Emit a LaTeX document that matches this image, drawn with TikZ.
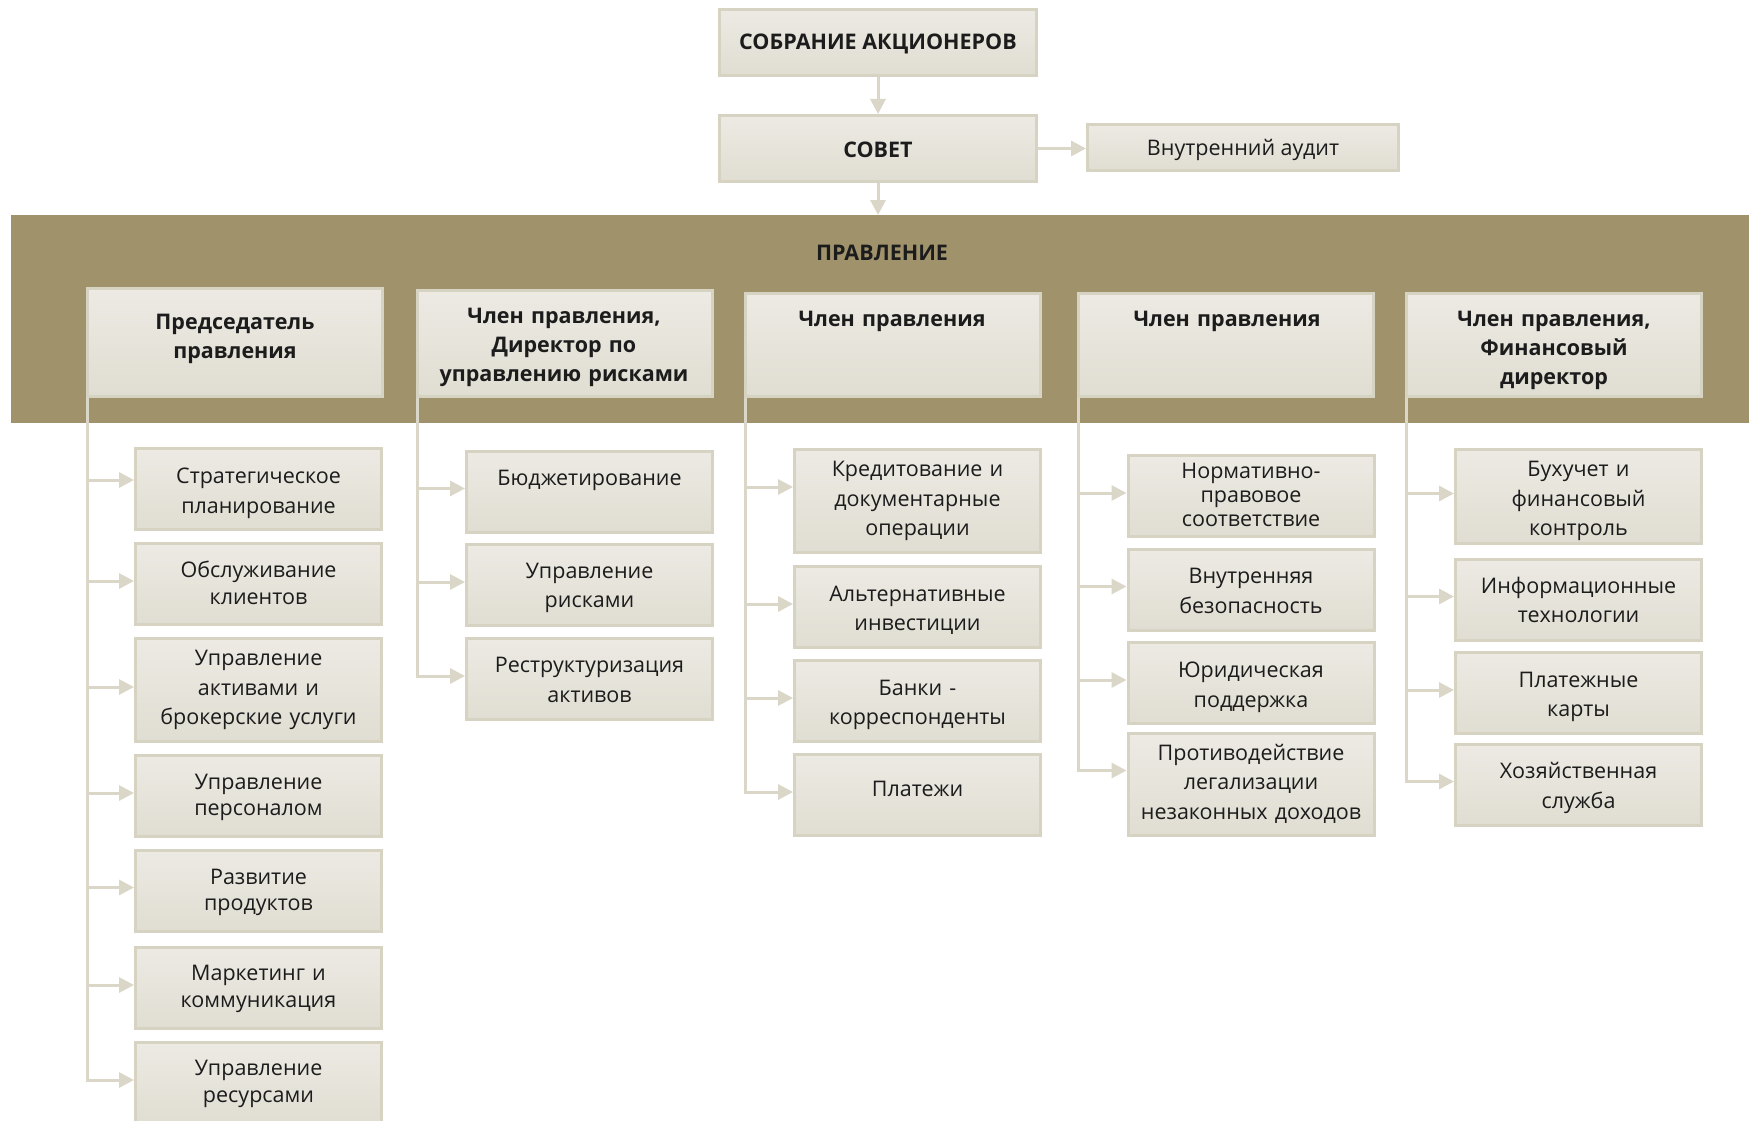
\documentclass[tikz,border=0pt]{standalone}
\usepackage{fontspec}
\setmainfont{Open Sans}
\usetikzlibrary{arrows.meta}
\definecolor{bandc}{HTML}{A0936C}
\definecolor{boxtop}{HTML}{ECEAE3}
\definecolor{boxbot}{HTML}{E0DDD2}
\definecolor{boxline}{HTML}{D6D3C3}
\definecolor{linec}{HTML}{DAD7C8}
\definecolor{txt}{HTML}{1C1C1C}
\begin{document}
\begin{tikzpicture}[x=1pt,y=-1pt,
  every node/.style={text=txt, font=\fontsize{21.5}{29.5}\selectfont},
  box/.style={draw=boxline, line width=3pt, top color=boxtop, bottom color=boxbot, inner sep=0pt},
  sub/.style={box, minimum width=246pt, minimum height=81pt},
  lbl/.style={inner sep=0pt, align=center, text width=240pt},
  tight/.style={font=\fontsize{21.5}{26.5}\selectfont},
  tighter/.style={font=\fontsize{21.5}{24}\selectfont},
  mgr/.style={box, minimum width=295pt},
  mtitle/.style={anchor=base, inner sep=0pt, align=center, text width=290pt, font=\bfseries\fontsize{21.5}{29}\selectfont},
  topbox/.style={box, minimum width=317pt, minimum height=66pt, font=\bfseries\fontsize{21.5}{29}\selectfont},
  conn/.style={draw=linec, line width=3pt, -{Triangle[length=15pt,width=15pt]}}
]
\fill[white] (0,0) rectangle (1749,1121);
\useasboundingbox (0,0) rectangle (1749,1121);

% band
\node[fill=bandc, minimum width=1738pt, minimum height=208pt, inner sep=0pt, outer sep=0pt] (band) at (880,319) {};
\node[font=\bfseries\fontsize{21.5}{29}\selectfont] (pravl) at (882,253) {ПРАВЛЕНИЕ};

% top
\node[topbox] (sobr) at (878,42.5) {};
\node[topbox] (sovet) at (878,148.5) {};
\node[box, minimum width=311pt, minimum height=46pt] (audit) at (1243,147.5) {};
\node[font=\bfseries\fontsize{21.5}{29}\selectfont] (sobrt) at ([yshift=-1pt]sobr.center) {СОБРАНИЕ АКЦИОНЕРОВ};
\node[font=\bfseries\fontsize{21.5}{29}\selectfont] (sovett) at ([yshift=-1pt]sovet.center) {СОВЕТ};
\node (auditt) at ([yshift=-2pt]audit.center) {Внутренний аудит};

% managers
\node[mgr, minimum height=108pt] (m1) at (235,342.5) {};
\node[mgr, minimum height=106pt] (m2) at (565,343.5) {};
\node[mgr, minimum height=103pt] (m3) at (893,345) {};
\node[mgr, minimum height=103pt] (m4) at (1226,345) {};
\node[mgr, minimum height=103pt] (m5) at (1554,345) {};
\node[mtitle] (m1t) at (235,329.7) {Председатель\\правления};
\node[mtitle] (m2t) at (564,323.7) {Член правления,\\Директор по\\управлению рисками};
\node[mtitle] (m3t) at (892,326.7) {Член правления};
\node[mtitle] (m4t) at (1227,326.7) {Член правления};
\node[mtitle] (m5t) at (1554,326.7) {Член правления,\\Финансовый\\директор};

% column 1
\node[sub] (s11) at (258.5,489) {};
\node[sub] (s12) at (258.5,584) {};
\node[sub, minimum height=103pt] (s13) at (258.5,690) {};
\node[sub] (s14) at (258.5,796) {};
\node[sub] (s15) at (258.5,890.5) {};
\node[sub] (s16) at (258.5,988) {};
\node[sub] (s17) at (258.5,1083) {};
\node[lbl] (s11t) at ([yshift=-4.5pt]s11.center) {Стратегическое\\планирование};
\node[lbl, tight] (s12t) at ([yshift=1pt]s12.center) {Обслуживание\\клиентов};
\node[lbl] (s13t) at (s13.center) {Управление\\активами и\\брокерские услуги};
\node[lbl, tight] (s14t) at ([yshift=-1.5pt]s14.center) {Управление\\персоналом};
\node[lbl, tight] (s15t) at ([yshift=-2pt]s15.center) {Развитие\\продуктов};
\node[lbl, tight] (s16t) at ([yshift=-1pt]s16.center) {Маркетинг и\\коммуникация};
\node[lbl, tight] (s17t) at ([yshift=-1pt]s17.center) {Управление\\ресурсами};
% column 2
\node[sub] (s21) at (589.5,491.5) {};
\node[sub] (s22) at (589.5,585) {};
\node[sub] (s23) at (589.5,679) {};
\node[lbl] (s21t) at ([yshift=-1pt]s21.center) {Бюджетирование\\~};
\node[lbl] (s22t) at ([yshift=-3pt]s22.center) {Управление\\рисками};
\node[lbl] (s23t) at ([yshift=-1pt]s23.center) {Реструктуризация\\активов};
% column 3
\node[sub, minimum height=103pt] (s31) at (917.5,501) {};
\node[sub] (s32) at (917.5,607) {};
\node[sub] (s33) at (917.5,701) {};
\node[sub] (s34) at (917.5,795) {};
\node[lbl] (s31t) at (s31.center) {Кредитование и\\документарные\\операции};
\node[lbl] (s32t) at ([yshift=-3.5pt]s32.center) {Альтернативные\\инвестиции};
\node[lbl] (s33t) at ([yshift=-4pt]s33.center) {Банки -\\корреспонденты};
\node[lbl] (s34t) at ([yshift=3.5pt]s34.center) {Платежи\vphantom{р}};
% column 4
\node[sub] (s41) at (1251,496) {};
\node[sub] (s42) at (1251,589.5) {};
\node[sub] (s43) at (1251,683) {};
\node[sub, minimum height=102pt] (s44) at (1251,784.5) {};
\node[lbl, tighter] (s41t) at ([yshift=1pt]s41.center) {Нормативно-\\правовое\\соответствие};
\node[lbl] (s42t) at ([yshift=-1.5pt]s42.center) {Внутренняя\\безопасность};
\node[lbl] (s43t) at ([yshift=-4.5pt]s43.center) {Юридическая\\поддержка};
\node[lbl] (s44t) at ([yshift=1pt]s44.center) {Противодействие\\легализации\\незаконных доходов};
% column 5
\node[sub, minimum height=94pt] (s51) at (1578.5,496.5) {};
\node[sub] (s52) at (1578.5,599.5) {};
\node[sub] (s53) at (1578.5,693) {};
\node[sub] (s54) at (1578.5,784.5) {};
\node[lbl] (s51t) at ([yshift=-4.5pt]s51.center) {Бухучет и\\финансовый\\контроль};
\node[lbl] (s52t) at ([yshift=-0.5pt]s52.center) {Информационные\\технологии};
\node[lbl] (s53t) at ([yshift=-4pt]s53.center) {Платежные\\карты};
\node[lbl] (s54t) at ([yshift=-3.5pt]s54.center) {Хозяйственная\\служба};

% connectors top
\draw[conn] (sobr.south) -- (sovet.north);
\draw[conn] (sovet.east) -- (sovet.east -| audit.west);
\draw[conn] (sovet.south) -- (sovet.south |- band.north);

% connectors column 1
\draw[conn] ([xshift=1.5pt]m1.south west) |- ([yshift=9pt]s11.west);
\foreach \s in {s12,s13,s14,s15,s16,s17}
  \draw[conn] ([xshift=1.5pt]m1.south west) |- ([yshift=3pt]\s.west);
% column 2
\foreach \s in {s21,s22,s23}
  \draw[conn] ([xshift=1.5pt]m2.south west) |- ([yshift=3pt]\s.west);
% column 3
\draw[conn] ([xshift=1.5pt]m3.south west) |- ([yshift=14pt]s31.west);
\foreach \s in {s32,s33,s34}
  \draw[conn] ([xshift=1.5pt]m3.south west) |- ([yshift=3pt]\s.west);
% column 4
\foreach \s in {s41,s42,s43}
  \draw[conn] ([xshift=1.5pt]m4.south west) |- ([yshift=3pt]\s.west);
\draw[conn] ([xshift=1.5pt]m4.south west) |- ([yshift=14pt]s44.west);
% column 5
\foreach \s in {s51,s52,s53,s54}
  \draw[conn] ([xshift=1.5pt]m5.south west) |- ([yshift=3pt]\s.west);
\end{tikzpicture}
\end{document}
